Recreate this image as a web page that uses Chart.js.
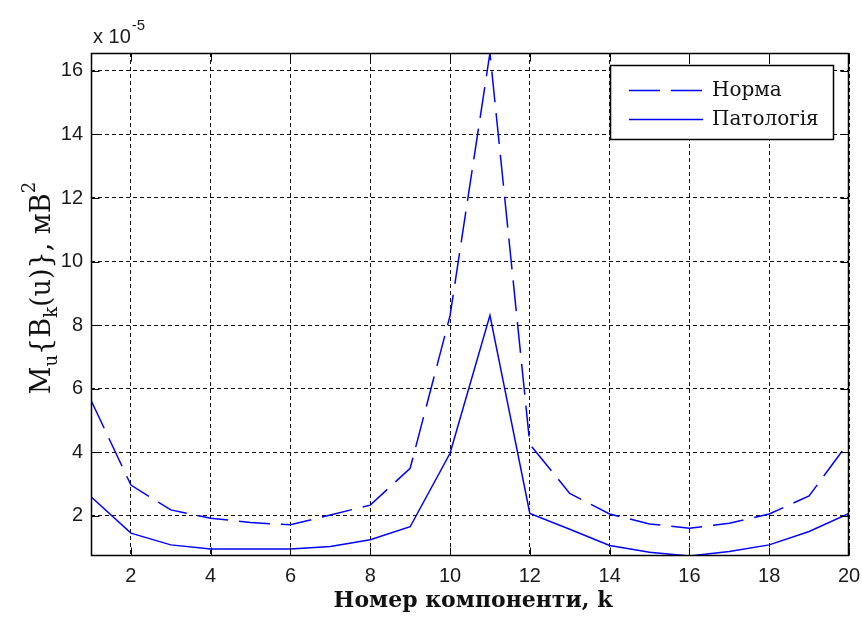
<!DOCTYPE html>
<html>
<head>
<meta charset="utf-8">
<script src="https://cdn.jsdelivr.net/npm/chart.js@4.4.1/dist/chart.umd.min.js"></script>
<style>
    html, body { margin: 0; padding: 0; background: #fff; }
    #wrap { width: 862px; height: 619px; position: relative; }
</style>
</head>
<body>
<div id="wrap"><canvas id="chart"></canvas></div>
<script>
const components = [1, 2, 3, 4, 5, 6, 7, 8, 9, 10, 11, 12, 13, 14, 15, 16, 17, 18, 19, 20];
const normaValues = [5.64, 2.97, 2.19, 1.93, 1.79, 1.72, 2.03, 2.34, 3.5, 8.3, 16.56, 4.25, 2.71, 2.06, 1.75, 1.61, 1.77, 2.06, 2.63, 4.33];
const patologyValues = [2.6, 1.46, 1.09, 0.96, 0.96, 0.96, 1.04, 1.25, 1.66, 3.97, 8.31, 2.08, 1.58, 1.07, 0.86, 0.74, 0.88, 1.09, 1.51, 2.08];
const seriesLabels = ["Норма", "Патологія"];
const xTicks = [2, 4, 6, 8, 10, 12, 14, 16, 18, 20];
const yTicks = [2, 4, 6, 8, 10, 12, 14, 16];
const yExponent = "-5";

document.addEventListener("DOMContentLoaded", init);

function init() {
    const ctx = document.getElementById("chart");
    new Chart(ctx, {
        type: "line",
        data: {
            datasets: [
                makeSeries(seriesLabels[0], normaValues, [31, 11]),
                makeSeries(seriesLabels[1], patologyValues, [])
            ]
        },
        options: {
            responsive: true,
            maintainAspectRatio: false,
            animation: false,
            layout: { padding: { top: 53, right: 13, left: 0, bottom: 0 } },
            plugins: { legend: { display: false }, tooltip: { enabled: false } },
            scales: {
                x: {
                    type: "linear",
                    min: components[0],
                    max: components[components.length - 1],
                    afterBuildTicks: (s) => { s.ticks = xTicks.map(v => ({ value: v })); },
                    afterFit: (s) => { s.height = 63; s.paddingLeft = 0; s.paddingRight = 0; },
                    grid: { color: "#111", lineWidth: 1, drawTicks: false },
                    border: { display: false, dash: [4, 3] },
                    ticks: {
                        padding: 8,
                        color: "#1a1a1a",
                        font: { family: "'Liberation Sans', Arial", size: 20 },
                        maxRotation: 0
                    }
                },
                y: {
                    type: "linear",
                    min: Math.min(...patologyValues),
                    max: Math.max(...normaValues),
                    afterBuildTicks: (s) => { s.ticks = yTicks.map(v => ({ value: v })); },
                    afterFit: (s) => { s.width = 91; s.paddingTop = 0; s.paddingBottom = 0; },
                    grid: { color: "#111", lineWidth: 1, drawTicks: false },
                    border: { display: false, dash: [4, 3] },
                    ticks: {
                        padding: 8,
                        color: "#1a1a1a",
                        font: { family: "'Liberation Sans', Arial", size: 20 }
                    }
                }
            }
        },
        plugins: [matlabFrame]
    });
}

function makeSeries(label, values, dash) {
    return {
        label,
        data: components.map((k, i) => ({ x: k, y: values[i] })),
        borderColor: "#0000ff",
        borderWidth: 1.5,
        borderDash: dash,
        pointRadius: 0,
        tension: 0,
        fill: false
    };
}

/* ------------------- frame, ticks, legend, titles ------------------ */

const matlabFrame = {
    id: "matlabFrame",
    afterDraw(chart) {
        const { ctx, chartArea: a, scales } = chart;
        const L = Math.round(a.left) + 0.5, R = Math.round(a.right) - 0.5;
        const T = Math.round(a.top) + 0.5, B = Math.round(a.bottom) - 0.5;

        ctx.save();
        ctx.strokeStyle = "#000";
        ctx.lineWidth = 1;
        ctx.setLineDash([]);

        // inner tick marks on all four sides
        const tl = 8;
        ctx.beginPath();
        xTicks.forEach(v => {
            const px = Math.round(scales.x.getPixelForValue(v)) + 0.5;
            ctx.moveTo(px, B); ctx.lineTo(px, B - tl);
            ctx.moveTo(px, T); ctx.lineTo(px, T + tl);
        });
        yTicks.forEach(v => {
            const py = Math.round(scales.y.getPixelForValue(v)) + 0.5;
            ctx.moveTo(L, py); ctx.lineTo(L + tl, py);
            ctx.moveTo(R, py); ctx.lineTo(R - tl, py);
        });
        ctx.stroke();

        ctx.lineWidth = 1.5;
        ctx.strokeRect(L, T, R - L, B - T);

        drawLegend(ctx, chart);

        // exponent label
        ctx.fillStyle = "#1a1a1a";
        ctx.textBaseline = "alphabetic";
        ctx.textAlign = "left";
        ctx.font = "20px 'Liberation Sans', Arial";
        ctx.fillText("x 10", 93, 43);
        const w = ctx.measureText("x 10").width;
        ctx.font = "15px 'Liberation Sans', Arial";
        ctx.fillText(yExponent, 93 + w + 1, 30);

        // x title
        ctx.fillStyle = "#111";
        ctx.font = "bold 22px 'DejaVu Serif', serif";
        ctx.textAlign = "center";
        ctx.fillText("Номер компоненти, k", 473, 607);

        // y title with sub/superscripts
        ctx.translate(50, 288);
        ctx.rotate(-Math.PI / 2);
        drawRich(ctx, [
            { text: "M", size: 27, dy: 0 },
            { text: "u", size: 18, dy: 7 },
            { text: "{B", size: 27, dy: 0 },
            { text: "k", size: 18, dy: 7 },
            { text: "(u)}, мВ", size: 27, dy: 0 },
            { text: "2", size: 18, dy: -15 }
        ]);
        ctx.restore();
    }
};

function drawLegend(ctx, chart) {
    ctx.save();
    ctx.fillStyle = "#fff";
    ctx.fillRect(610.5, 65.5, 223, 74);
    ctx.strokeStyle = "#000";
    ctx.lineWidth = 1.5;
    ctx.strokeRect(610.5, 65.5, 223, 74);

    const rows = [90, 119];
    chart.data.datasets.forEach((ds, i) => {
        ctx.strokeStyle = ds.borderColor;
        ctx.lineWidth = ds.borderWidth;
        ctx.setLineDash(ds.borderDash);
        ctx.beginPath();
        ctx.moveTo(629, rows[i] + 0.5);
        ctx.lineTo(703, rows[i] + 0.5);
        ctx.stroke();

        ctx.setLineDash([]);
        ctx.fillStyle = "#111";
        ctx.font = "20px 'DejaVu Serif', serif";
        ctx.textAlign = "left";
        ctx.textBaseline = "middle";
        ctx.fillText(ds.label, 712, rows[i] + 1);
    });
    ctx.restore();
}

function drawRich(ctx, pieces) {
    let total = 0;
    pieces.forEach(p => {
        ctx.font = p.size + "px 'DejaVu Serif', serif";
        p.w = ctx.measureText(p.text).width;
        total += p.w;
    });
    let x = -total / 2;
    ctx.textAlign = "left";
    ctx.textBaseline = "alphabetic";
    pieces.forEach(p => {
        ctx.font = p.size + "px 'DejaVu Serif', serif";
        ctx.fillText(p.text, x, p.dy);
        x += p.w;
    });
}
</script>
</body>
</html>
